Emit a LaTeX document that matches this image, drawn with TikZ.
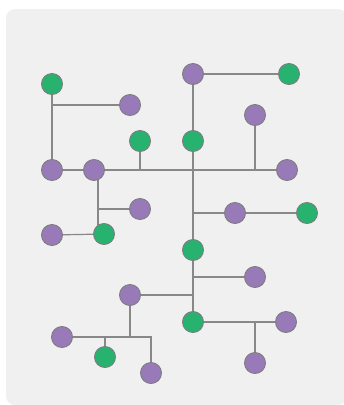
\documentclass[tikz,border=0pt]{standalone}
\usetikzlibrary{positioning}
\definecolor{panelgray}{RGB}{240,240,240}
\definecolor{wiregray}{RGB}{136,136,136}
\definecolor{ringgray}{RGB}{125,125,125}
\definecolor{leafgreen}{RGB}{40,178,112}
\definecolor{leafpurple}{RGB}{152,122,184}
\pgfdeclarelayer{panel}
\pgfdeclarelayer{wires}
\pgfsetlayers{panel,wires,main}
\begin{document}
\begin{tikzpicture}[x=1pt, y=-1pt, wire/.style={draw=wiregray, line width=1.2pt},
  green node/.style={circle,draw=ringgray,line width=0.9pt,fill=leafgreen,minimum size=21pt,inner sep=0pt},
  purple node/.style={circle,draw=ringgray,line width=0.9pt,fill=leafpurple,minimum size=21pt,inner sep=0pt}]
\useasboundingbox (0,0) rectangle (344,405);
\begin{pgfonlayer}{panel}
\fill[panelgray, rounded corners=9pt] (6,9) rectangle (347,405);
\end{pgfonlayer}
\begin{scope}
\node[green node] (g1) at (52,84) {};
\node[purple node] (p1) at (130,105) {};
\node[green node] (g2) at (140,141) {};
\node[purple node] (p2) at (52,170) {};
\node[purple node] (p3) at (94,170) {};
\node[purple node] (p4) at (193,74) {};
\node[green node] (g3) at (289,74) {};
\node[purple node] (p5) at (255,115) {};
\node[green node] (g4) at (193,141) {};
\node[purple node] (p6) at (287,170) {};
\node[purple node] (p7) at (140,209) {};
\node[purple node] (p8) at (52,235) {};
\node[green node] (g5) at (104,234) {};
\node[purple node] (p12) at (235,213) {};
\node[green node] (g7) at (307,213) {};
\node[green node] (g8) at (193,250) {};
\node[purple node] (p13) at (255,277) {};
\node[purple node] (p9) at (130,295) {};
\node[purple node] (p10) at (62,337) {};
\node[green node] (g6) at (105,357) {};
\node[purple node] (p11) at (151,373) {};
\node[green node] (g9) at (193,322) {};
\node[purple node] (p14) at (286,322) {};
\node[purple node] (p15) at (255,363) {};
\coordinate (v1) at (98,170);
%\node[purple node] (p) at (,) {};
\end{scope}
\begin{pgfonlayer}{wires}
\draw[wire] (g1) -- (p2);
\draw[wire] (g1|-p1) -- (p1);
\draw[wire] (p2) -- (p3);
\draw[wire] (p3) -- (p6);
\draw[wire] (g2) -- (g2|-p3);
\draw[wire] (p4) -- (g3);
\draw[wire] (p4) -- (g4);
\draw[wire] (g4) -- (g8);
\draw[wire] (g8) -- (g9);
\draw[wire] (p5) -- (p5|-p6);
\draw[wire] (g4|-p12) -- (p12);
\draw[wire] (p12) -- (g7);
\draw[wire] (v1) -- (v1|-g5);
\draw[wire] (v1|-p7) -- (p7);
\draw[wire] (p8) -- (g5);
\draw[wire] (g8|-p13) -- (p13);
\draw[wire] (p9) -- (p9-|g8);
\draw[wire] (p9) -- (p9|-p10);
\draw[wire] (p10) -- (p11|-p10) -- (p11);
\draw[wire] (g6|-p10) -- (g6);
\draw[wire] (g9) -- (p14);
\draw[wire] (p15|-g9) -- (p15);
%\draw[wire] (p) -- (p);
\end{pgfonlayer}
\end{tikzpicture}
\end{document}
